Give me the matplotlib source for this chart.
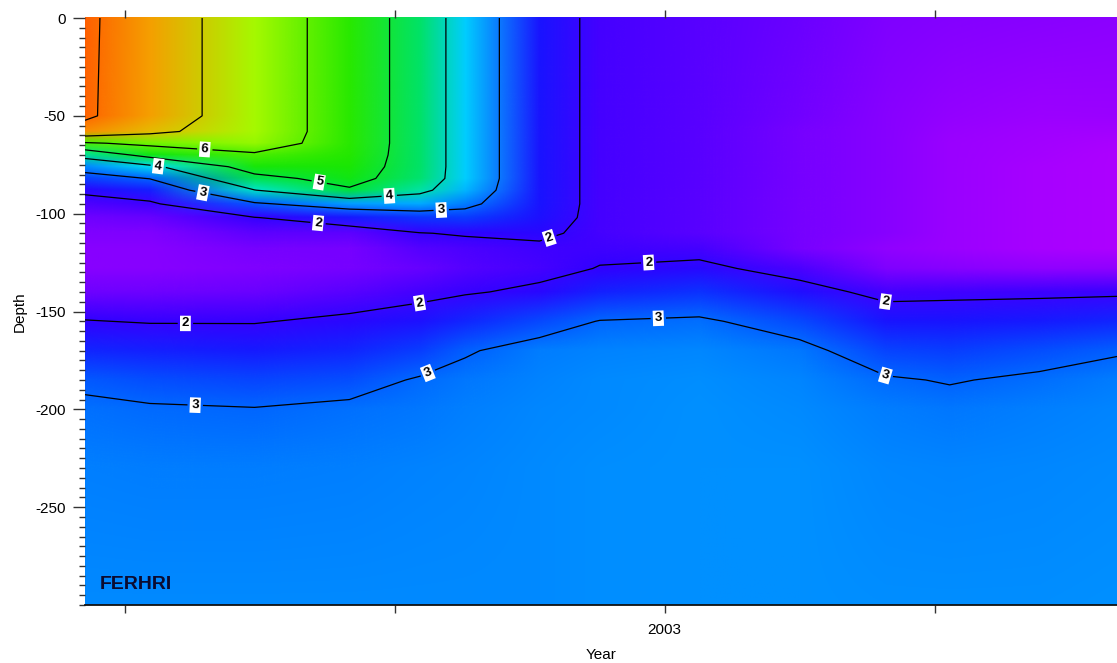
import numpy as np
import matplotlib
matplotlib.use("Agg")
import matplotlib.pyplot as plt
from matplotlib.colors import LinearSegmentedColormap, Normalize
from matplotlib.image import NonUniformImage
from matplotlib.ticker import FixedLocator, MultipleLocator

plt.rcParams['font.family'] = ['Liberation Sans', 'DejaVu Sans']
plt.rcParams['axes.unicode_minus'] = False

# ---------------- DATA ----------------
# station times (decimal year) and sample depths (m, negative down)
station_year = [2002.463, 2002.523, 2002.620, 2002.708, 2002.773, 2002.815, 2002.884,
                2002.940, 2003.032, 2003.125, 2003.205, 2003.264, 2003.347, 2003.419]
depth = [0, -50, -58, -64, -70, -76, -82, -88, -95, -102, -110, -118,
         -128, -140, -155, -170, -185, -200, -230, -300]

# one profile per station, surface to bottom
profiles = [
    [8.15, 8.12, 7.70, 5.90, 4.30, 3.30, 2.70, 2.10, 1.80, 1.60, 1.50, 1.45, 1.45, 1.60, 2.02, 2.45, 2.90, 3.10, 3.22, 3.30],
    [7.50, 7.50, 7.20, 6.20, 5.30, 3.80, 3.02, 2.40, 1.90, 1.65, 1.50, 1.45, 1.45, 1.60, 1.97, 2.40, 2.80, 3.05, 3.20, 3.30],
    [6.50, 6.50, 6.50, 6.40, 5.90, 5.40, 4.75, 3.98, 2.90, 1.98, 1.70, 1.55, 1.50, 1.62, 1.97, 2.35, 2.72, 3.02, 3.20, 3.30],
    [5.60, 5.60, 5.60, 5.60, 5.55, 5.45, 5.30, 4.90, 3.40, 2.35, 1.70, 1.55, 1.55, 1.72, 2.10, 2.45, 2.80, 3.10, 3.22, 3.30],
    [4.55, 4.55, 4.55, 4.55, 4.55, 4.55, 4.50, 4.20, 3.45, 2.60, 1.98, 1.75, 1.65, 1.85, 2.25, 2.65, 3.05, 3.15, 3.25, 3.30],
    [3.60, 3.60, 3.60, 3.60, 3.60, 3.60, 3.60, 3.50, 3.20, 2.65, 2.05, 1.80, 1.75, 1.95, 2.45, 2.95, 3.15, 3.22, 3.27, 3.30],
    [2.30, 2.30, 2.30, 2.30, 2.30, 2.30, 2.30, 2.30, 2.30, 2.25, 2.10, 1.90, 1.85, 2.10, 2.75, 3.20, 3.25, 3.28, 3.30, 3.30],
    [1.85, 1.85, 1.85, 1.85, 1.85, 1.85, 1.85, 1.85, 1.85, 1.85, 1.85, 1.90, 2.02, 2.40, 3.02, 3.25, 3.30, 3.30, 3.32, 3.32],
    [1.72, 1.72, 1.72, 1.72, 1.72, 1.72, 1.72, 1.72, 1.72, 1.72, 1.72, 1.85, 2.12, 2.55, 3.08, 3.28, 3.32, 3.33, 3.33, 3.33],
    [1.62, 1.58, 1.55, 1.55, 1.55, 1.55, 1.55, 1.55, 1.55, 1.55, 1.55, 1.55, 1.80, 2.20, 2.75, 3.15, 3.27, 3.30, 3.33, 3.33],
    [1.50, 1.45, 1.45, 1.45, 1.45, 1.45, 1.45, 1.45, 1.45, 1.45, 1.45, 1.40, 1.50, 1.85, 2.30, 2.70, 3.05, 3.20, 3.28, 3.32],
    [1.47, 1.38, 1.36, 1.35, 1.35, 1.35, 1.35, 1.35, 1.35, 1.35, 1.35, 1.35, 1.45, 1.88, 2.30, 2.65, 2.97, 3.15, 3.27, 3.32],
    [1.44, 1.34, 1.31, 1.30, 1.29, 1.28, 1.28, 1.28, 1.28, 1.28, 1.28, 1.28, 1.40, 1.90, 2.35, 2.80, 3.08, 3.22, 3.28, 3.32],
    [1.42, 1.35, 1.30, 1.27, 1.25, 1.25, 1.25, 1.25, 1.25, 1.25, 1.25, 1.25, 1.40, 1.92, 2.45, 2.95, 3.20, 3.27, 3.30, 3.33],
]

contour_levels = [2, 3, 4, 5, 6, 7, 8]
x_ticks = [2002.5, 2002.75, 2003.0, 2003.25]
x_tick_labels = ["", "", "2003", ""]
y_ticks = [-250, -200, -150, -100, -50, 0]
# --------------------------------------

# ODV-like palette (value, rgb)
VMIN, VMAX = 1.2, 8.2
palette = [
    (1.2, (185, 0, 255)), (1.3, (162, 0, 255)), (1.45, (135, 0, 255)),
    (1.6, (110, 0, 255)), (1.8, (75, 0, 255)), (2.0, (50, 0, 255)),
    (2.3, (25, 20, 255)), (2.6, (10, 55, 255)), (3.0, (0, 100, 255)),
    (3.3, (0, 138, 255)), (3.6, (0, 205, 255)), (3.85, (0, 225, 235)),
    (4.0, (0, 228, 195)), (4.5, (0, 226, 110)), (5.0, (0, 228, 45)),
    (5.5, (30, 232, 0)), (6.0, (85, 240, 0)), (6.5, (165, 250, 0)),
    (7.0, (220, 205, 0)), (7.5, (245, 160, 0)), (8.0, (255, 115, 0)),
    (8.2, (255, 90, 0)),
]
cmap = LinearSegmentedColormap.from_list(
    "odv", [((v - VMIN) / (VMAX - VMIN), tuple(c / 255 for c in rgb)) for v, rgb in palette],
    N=1024)
norm = Normalize(VMIN, VMAX)

X = np.array(station_year)
Y = np.array(depth)
Z = np.array(profiles).T

fig = plt.figure(figsize=(11.17, 6.63), dpi=100)
ax = fig.add_axes([85 / 1117, 58 / 663, 1032 / 1117, 587 / 663])

# smooth (bilinear) colour field, rows flipped so depth increases upward
im = NonUniformImage(ax, interpolation="bilinear", cmap=cmap, norm=norm,
                     extent=(X[0], X[-1], Y[-1], Y[0]))
im.set_data(X, Y[::-1], Z[::-1])
ax.add_image(im)

cs = ax.contour(X, Y, Z, levels=contour_levels, colors="k", linewidths=0.9)

# label spots along the isolines
label_spots = [
    (2002.574, -67), (2002.679, -87), (2002.531, -75), (2002.745, -92),
    (2002.573, -87), (2002.793, -98), (2002.679, -104), (2002.894, -114),
    (2002.985, -124), (2002.556, -157), (2002.773, -146), (2003.205, -144),
    (2002.994, -152), (2002.781, -182), (2003.205, -182), (2002.565, -199),
]
labels = ax.clabel(cs, manual=label_spots, inline=True, inline_spacing=4,
                   fmt="%d", fontsize=9.5)
for t in labels:
    t.set_fontweight("bold")
    t.set_bbox(dict(facecolor="white", edgecolor="none", pad=1.2))

ax.set_xlim(station_year[0], station_year[-1])
ax.set_ylim(-300, 0)

ax.xaxis.set_major_locator(FixedLocator(x_ticks))
ax.set_xticklabels(x_tick_labels)
ax.set_yticks(y_ticks)
ax.yaxis.set_minor_locator(MultipleLocator(5))

ax.tick_params(axis="y", which="major", direction="out", length=9, width=1,
               color="#333333", labelsize=11, pad=5)
ax.tick_params(axis="y", which="minor", direction="out", length=4, width=1, color="#333333")
ax.tick_params(axis="x", which="major", direction="out", top=True, bottom=True,
               length=6, width=1, color="#333333", labelsize=11, pad=7)

for side in ["left", "top", "right"]:
    ax.spines[side].set_visible(False)
ax.spines["bottom"].set_linewidth(1.3)
ax.spines["bottom"].set_color("#111111")

ax.set_xlabel("Year", fontsize=11, labelpad=8)
ax.set_ylabel("Depth", fontsize=11, labelpad=6)

ax.text(0.0145, 0.02, "FERHRI", transform=ax.transAxes, fontsize=14,
        fontweight="bold", color="#0b0b30", ha="left", va="bottom")

fig.savefig("out.png", dpi=100)
